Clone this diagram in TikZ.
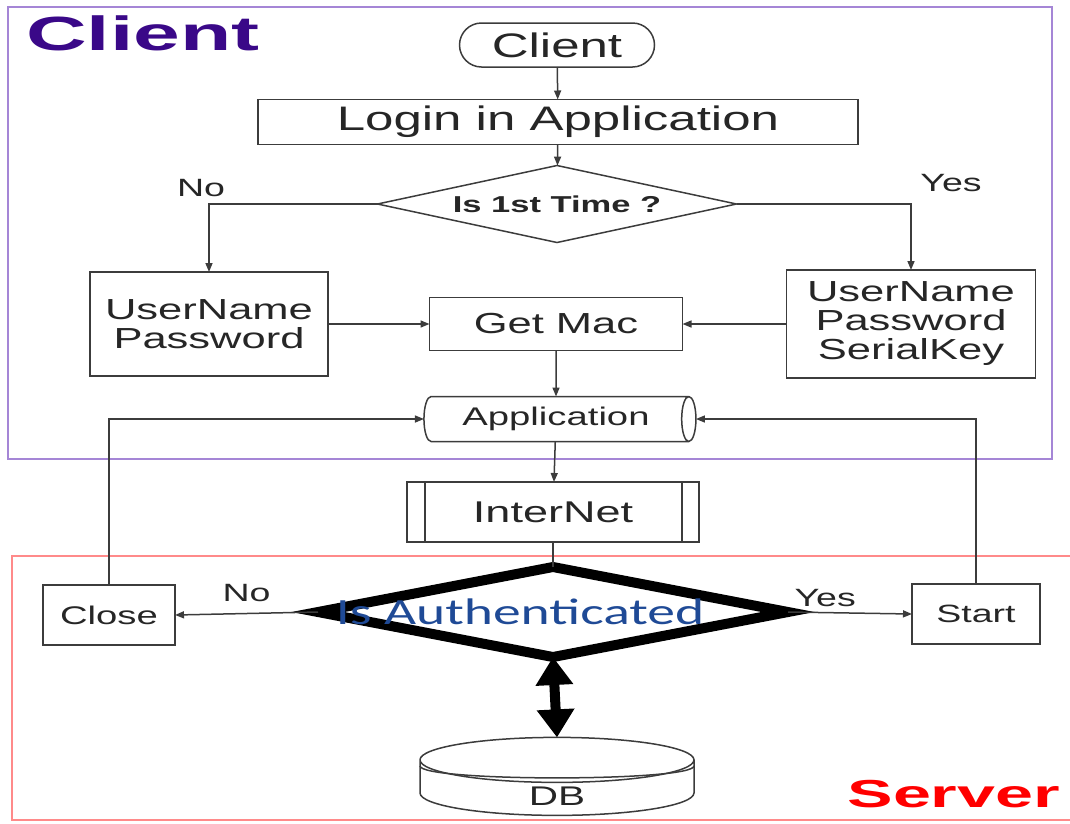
\documentclass[tikz,border=0pt]{standalone}
\usepackage{fontspec}
\setmainfont{Liberation Sans}[FakeStretch=1.5]
\newfontfamily\titlefont{Liberation Sans}[FakeStretch=1.75]
\newfontfamily\authfont{Carlito}[FakeStretch=1.5]
\usetikzlibrary{arrows.meta,calc,shapes.geometric,shapes.misc}
\definecolor{ink}{HTML}{3C3C3C}
\definecolor{clientframe}{HTML}{A586D6}
\definecolor{clienttitle}{HTML}{3A0888}
\definecolor{serverframe}{HTML}{FF8A8A}
\definecolor{authtext}{HTML}{1F4A96}
\newcommand{\fsz}[1]{\fontsize{#1}{#1}\selectfont}
\tikzset{
  chart/.style={x=1pt,y=-1pt,line width=1.5pt,
    every node/.style={inner sep=0pt,outer sep=0pt,align=center,text=black!85}},
  proc/.style={draw=ink,rectangle},
  flow/.style={draw=ink,-{Triangle[length=9pt,width=7pt]}},
  decision/.style={draw=ink,diamond},
  store/.style={draw=ink,cylinder},
  lbl/.style={font=\fsz{25}},
}

\begin{document}
\begin{tikzpicture}[chart]
\useasboundingbox (0,0) rectangle (1070,823);
\draw[clientframe] (8,7) rectangle (1052,459);
\draw[serverframe] (1072,556) -- (12,556) -- (12,820) -- (1072,820);
\node[anchor=base west,text=clienttitle,font=\titlefont\bfseries\fsz{48}] (clientname) at (26,50) {Client};
\node[anchor=base east,text=red,font=\titlefont\bfseries\fsz{39}] (servername) at (1060,807) {Server};

\node[draw=ink,rounded rectangle,minimum width=195pt,minimum height=44pt,font=\fsz{34}] (begin) at (557,45) {Client};
\node[proc,minimum width=600pt,minimum height=45pt,font=\fsz{34}] (login) at (558,122) {Login in Application};
\node[decision,aspect=4.6,minimum width=359pt,minimum height=77pt,font=\bfseries\fsz{23}] (first) at (557,204) {Is 1st Time ?};
\node[proc,minimum width=238pt,minimum height=104pt,font=\fsz{29}] (user) at (209,324) {UserName\\Password};
\node[proc,minimum width=249pt,minimum height=108pt,font=\fsz{29}] (userkey) at (911,324) {UserName\\Password\\SerialKey};
\node[proc,minimum width=253pt,minimum height=53pt,font=\fsz{29}] (mac) at (556,324) {Get Mac};
\node[store,shape border rotate=0,aspect=0.6,minimum width=45pt,minimum height=272pt,font=\fsz{25.5}] (app) at (556,419) {Application};
\node[proc,minimum width=292pt,minimum height=60pt,font=\fsz{30}] (inet) at (553,512) {InterNet};
\draw[ink] ($(inet.north west)+(18,0)$) -- ($(inet.south west)+(18,0)$);
\draw[ink] ($(inet.north east)+(-17,0)$) -- ($(inet.south east)+(-17,0)$);
\node[decision,draw=black,line width=10pt,minimum width=470pt,minimum height=90pt,text=authtext,font=\authfont\fsz{37}] (auth) at (553,612) {\makebox[0pt]{Is Authenticated\hspace{66pt}}};
\node[proc,minimum width=132pt,minimum height=60pt,font=\fsz{25.5}] (close) at (109,615) {Close};
\node[proc,minimum width=128pt,minimum height=60pt,font=\fsz{25}] (run) at (976,614) {Start};
\node[store,shape border rotate=90,aspect=0.8,minimum width=274pt,minimum height=78pt,font=\fsz{27}] (db) at (557,788) {\raisebox{-17pt}[0pt][0pt]{DB}};
\draw[ink] ($(db.after top)+(0,6)$) .. controls ($(db.after top)+(0,22)$) and ($(db.before top)+(0,22)$) .. ($(db.before top)+(0,6)$);

\draw[flow] (begin) -- (login);
\draw[flow] (login) -- (first);
\draw[flow] (first.west) -| node[pos=.5,above=7pt,xshift=-8pt,lbl]{No} (user.north);
\draw[flow] (first.east) -| node[pos=.5,above=12pt,xshift=40pt,lbl]{Yes} (userkey.north);
\draw[flow] (user.east) -- (mac.west);
\draw[flow] (userkey.west) -- (mac.east);
\draw[flow] (mac) -- (app);
\draw[flow] (app) -- (inet);
\draw[ink] (inet) -- (auth);
\draw[flow] (auth.west) -- node[above=12pt,lbl]{No} (close.east);
\draw[flow] (auth.east) -- node[pos=.3,above=6pt,lbl]{Yes} (run.west);
\draw[flow] (close.north) |- (app.west);
\draw[flow] (run.north) |- (app.east);
\draw[black,line width=10pt,{Triangle[length=28pt,width=36pt]}-{Triangle[length=28pt,width=36pt]}] (auth.south) -- (db.north);
\end{tikzpicture}
\end{document}
